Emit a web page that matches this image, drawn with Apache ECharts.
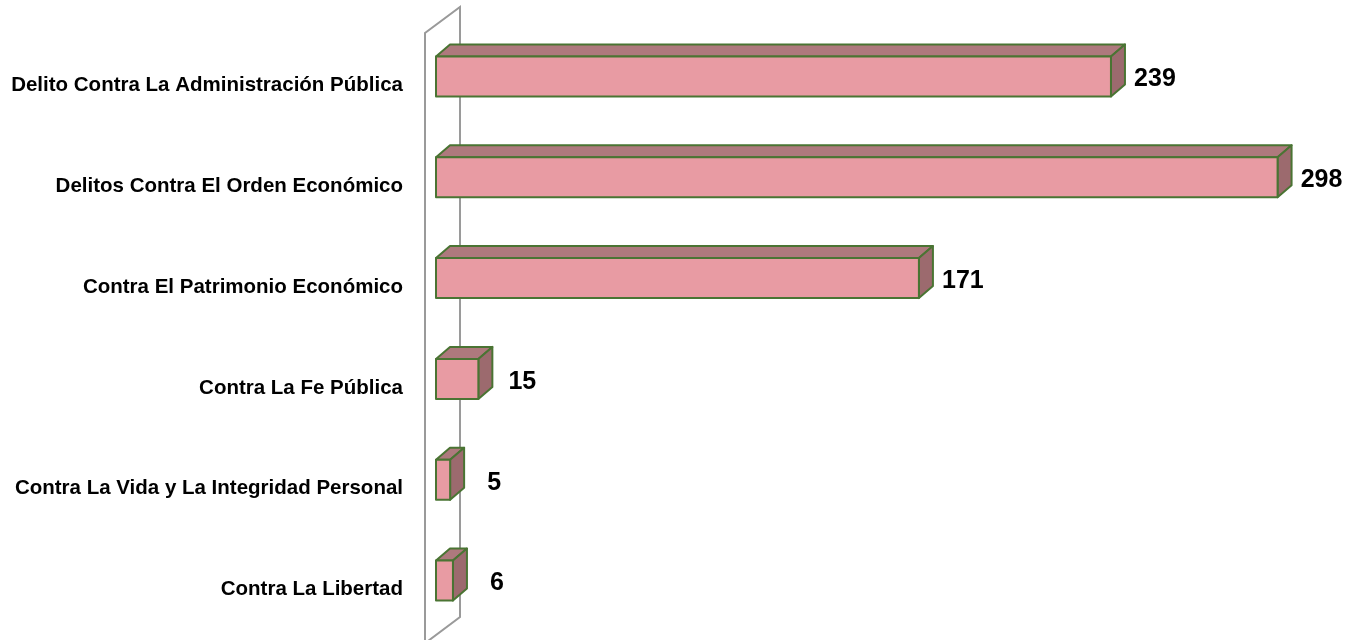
<!DOCTYPE html>
<html>
<head>
<meta charset="utf-8">
<script src="https://cdn.jsdelivr.net/npm/echarts@6/dist/echarts.min.js"></script>
<style>
  html, body { margin: 0; padding: 0; background: #ffffff; }
  #chart { width: 1354px; height: 640px; }
</style>
</head>
<body>
<div id="chart"></div>
<script>
// categories top to bottom
var categories = [
  'Delito Contra La Administración Pública',
  'Delitos Contra El Orden Económico',
  'Contra El Patrimonio Económico',
  'Contra La Fe Pública',
  'Contra La Vida y La Integridad Personal',
  'Contra La Libertad'
]
var values = [239, 298, 171, 15, 5, 6]

var frontColor = '#e89ba3'
var topColor = '#ae797d'
var sideColor = '#9c6a6e'
var edgeColor = '#4a7433'

var myChart = echarts.init(document.getElementById('chart'))

var seriesData = values.map(function (v, i) { return [v, i] })

var option = {
  animation: false,
  grid: { left: 436, top: 35, height: 610, width: 903.7 },
  xAxis: {
    type: 'value',
    min: 0,
    max: 320,
    show: false
  },
  yAxis: {
    type: 'category',
    data: categories,
    inverse: true,
    axisLine: { show: false },
    axisTick: { show: false },
    axisLabel: {
      margin: 33,
      color: '#000',
      fontFamily: 'Liberation Sans',
      fontWeight: 'bold',
      fontSize: 20.5,
      padding: [6, 0, 0, 0]
    }
  },
  graphic: [
    {
      // the back wall of the 3D plot
      type: 'polyline',
      z: 0,
      shape: { points: [[425, 645], [425, 33], [460, 7], [460, 617], [420, 647]] },
      style: { stroke: '#9a9a9a', lineWidth: 2, fill: null }
    }
  ],
  series: [
    {
      type: 'custom',
      z: 5,
      data: seriesData,
      encode: { x: 0, y: 1 },
      renderItem: function (params, api) {
        var v = api.value(0)
        var c = api.value(1)
        var p0 = api.coord([0, c])
        var p1 = api.coord([v, c])
        var h = 40, dx = 14, dy = -12
        var y0 = p0[1] - 9 - h / 2
        var y1 = y0 + h
        var x0 = p0[0]
        var x1 = p1[0]
        var edge = { stroke: edgeColor, lineWidth: 2, lineJoin: 'round' }
        return {
          type: 'group',
          children: [
            {
              type: 'polygon',
              shape: { points: [[x0, y0], [x0 + dx, y0 + dy], [x1 + dx, y0 + dy], [x1, y0]] },
              style: Object.assign({ fill: topColor }, edge)
            },
            {
              type: 'polygon',
              shape: { points: [[x1, y0], [x1 + dx, y0 + dy], [x1 + dx, y1 + dy], [x1, y1]] },
              style: Object.assign({ fill: sideColor }, edge)
            },
            {
              type: 'polygon',
              shape: { points: [[x0, y0], [x1, y0], [x1, y1], [x0, y1]] },
              style: Object.assign({ fill: frontColor }, edge)
            },
            {
              type: 'text',
              style: {
                text: String(v),
                x: x1 + dx + 30,
                y: (y0 + y1) / 2 + 3,
                align: 'center',
                verticalAlign: 'middle',
                fill: '#000',
                font: 'bold 25px "Liberation Sans"'
              }
            }
          ]
        }
      }
    }
  ]
}

myChart.setOption(option)
</script>
</body>
</html>
